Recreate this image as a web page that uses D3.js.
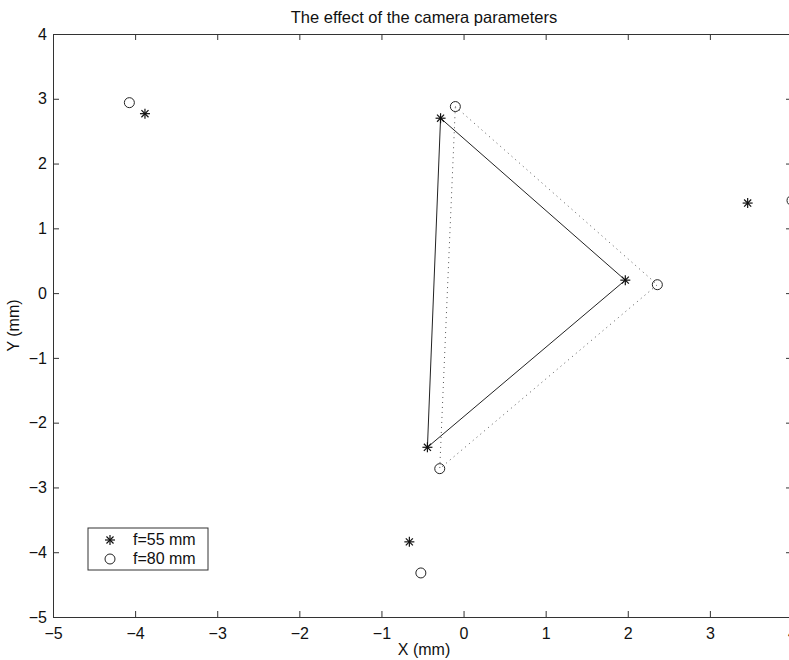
<!DOCTYPE html>
<html>
<head>
<meta charset="utf-8">
<script src="https://d3js.org/d3.v7.min.js"></script>
<style>
  body { margin: 0; background: #fff; }
  text { font-family: "Liberation Sans", Arial, Helvetica, sans-serif; fill: #111; }
</style>
</head>
<body>
<div id="chart"></div>
<script>
var width = 789;
var height = 660;

// data
var starX = [-3.88, -0.28, 1.97, -0.44, 3.46, -0.66];
var starY = [2.77, 2.70, 0.20, -2.38, 1.39, -3.84];
var circX = [-4.07, -0.10, 2.36, -0.29, 4.00, -0.52];
var circY = [2.94, 2.88, 0.13, -2.71, 1.43, -4.32];
// indices of the triangle corners
var triIdx = [1, 2, 3];
var xTicks = [-5, -4, -3, -2, -1, 0, 1, 2, 3, 4];
var yTicks = [-5, -4, -3, -2, -1, 0, 1, 2, 3, 4];
var legendLabels = ["f=55 mm", "f=80 mm"];

var margin = {left: 53, top: 34};
var plotW = 739, plotH = 583;

var svg = d3.select("#chart").append("svg")
    .attr("width", width)
    .attr("height", height);

var x = d3.scaleLinear().domain([-5, 4]).range([margin.left, margin.left + plotW]);
var y = d3.scaleLinear().domain([-5, 4]).range([margin.top + plotH, margin.top]);

function fmt(d){ return d3.format("")(d).replace("-", "\u2212"); }

// axes (ticks point inward, like matlab)
var gx = svg.append("g")
    .attr("transform", "translate(0," + (margin.top + plotH) + ")")
    .call(d3.axisBottom(x).tickValues(xTicks).tickSizeInner(-6).tickSizeOuter(0).tickPadding(11).tickFormat(fmt));
var gxt = svg.append("g")
    .attr("transform", "translate(0," + margin.top + ")")
    .call(d3.axisTop(x).tickValues(xTicks).tickSizeInner(-6).tickSizeOuter(0).tickFormat(""));
var gy = svg.append("g")
    .attr("transform", "translate(" + margin.left + ",0)")
    .call(d3.axisLeft(y).tickValues(yTicks).tickSizeInner(-6).tickSizeOuter(0).tickPadding(6).tickFormat(fmt));
var gyr = svg.append("g")
    .attr("transform", "translate(" + (margin.left + plotW) + ",0)")
    .call(d3.axisRight(y).tickValues(yTicks).tickSizeInner(-6).tickSizeOuter(0).tickFormat(""));

[gx, gxt, gy, gyr].forEach(function(g){
    g.selectAll("path, line").attr("stroke", "#333").attr("stroke-width", 1);
    g.selectAll("text").attr("font-size", 16).attr("fill", "#111")
        .attr("font-family", "'Liberation Sans', Arial, sans-serif");
});

// triangles
var line = d3.line().x(function(i){ return x(starX[i]); }).y(function(i){ return y(starY[i]); });
var lineC = d3.line().x(function(i){ return x(circX[i]); }).y(function(i){ return y(circY[i]); });

svg.append("path")
    .attr("d", lineC(triIdx.concat([triIdx[0]])))
    .attr("fill", "none")
    .attr("stroke", "#555")
    .attr("stroke-width", 1)
    .attr("stroke-dasharray", "1,4");

svg.append("path")
    .attr("d", line(triIdx.concat([triIdx[0]])))
    .attr("fill", "none")
    .attr("stroke", "#222")
    .attr("stroke-width", 1);

// star marker drawn as an asterisk
function star(g, cx, cy, r){
    for (var k = 0; k < 4; k++) {
        var a = k * Math.PI / 4;
        g.append("line")
            .attr("x1", cx - r * Math.cos(a)).attr("y1", cy - r * Math.sin(a))
            .attr("x2", cx + r * Math.cos(a)).attr("y2", cy + r * Math.sin(a))
            .attr("stroke", "#111").attr("stroke-width", 1.2);
    }
}

var stars = svg.append("g");
starX.forEach(function(v, i){ star(stars, x(v), y(starY[i]), 5); });

svg.append("g").selectAll("circle")
    .data(circX)
    .enter().append("circle")
    .attr("cx", function(d){ return x(d); })
    .attr("cy", function(d, i){ return y(circY[i]); })
    .attr("r", 5)
    .attr("fill", "none")
    .attr("stroke", "#222")
    .attr("stroke-width", 1);

// title and labels
svg.append("text")
    .attr("x", 424).attr("y", 23)
    .attr("text-anchor", "middle")
    .attr("font-size", 16.5)
    .text("The effect of the camera parameters");

svg.append("text")
    .attr("x", 424).attr("y", 655)
    .attr("text-anchor", "middle")
    .attr("font-size", 16)
    .text("X (mm)");

svg.append("text")
    .attr("transform", "translate(19," + (margin.top + plotH / 2) + ") rotate(-90)")
    .attr("text-anchor", "middle")
    .attr("font-size", 16)
    .text("Y (mm)");

// legend
var legend = svg.append("g").attr("transform", "translate(88,528)");
legend.append("rect")
    .attr("width", 120).attr("height", 42)
    .attr("fill", "#fff").attr("stroke", "#333").attr("stroke-width", 1);
star(legend, 22, 12, 5);
legend.append("circle")
    .attr("cx", 22).attr("cy", 31).attr("r", 5)
    .attr("fill", "none").attr("stroke", "#222");
legend.selectAll(".lab")
    .data(legendLabels)
    .enter().append("text")
    .attr("class", "lab")
    .attr("x", 45)
    .attr("y", function(d, i){ return 17 + i * 19; })
    .attr("font-size", 16)
    .text(function(d){ return d; });
</script>
</body>
</html>
